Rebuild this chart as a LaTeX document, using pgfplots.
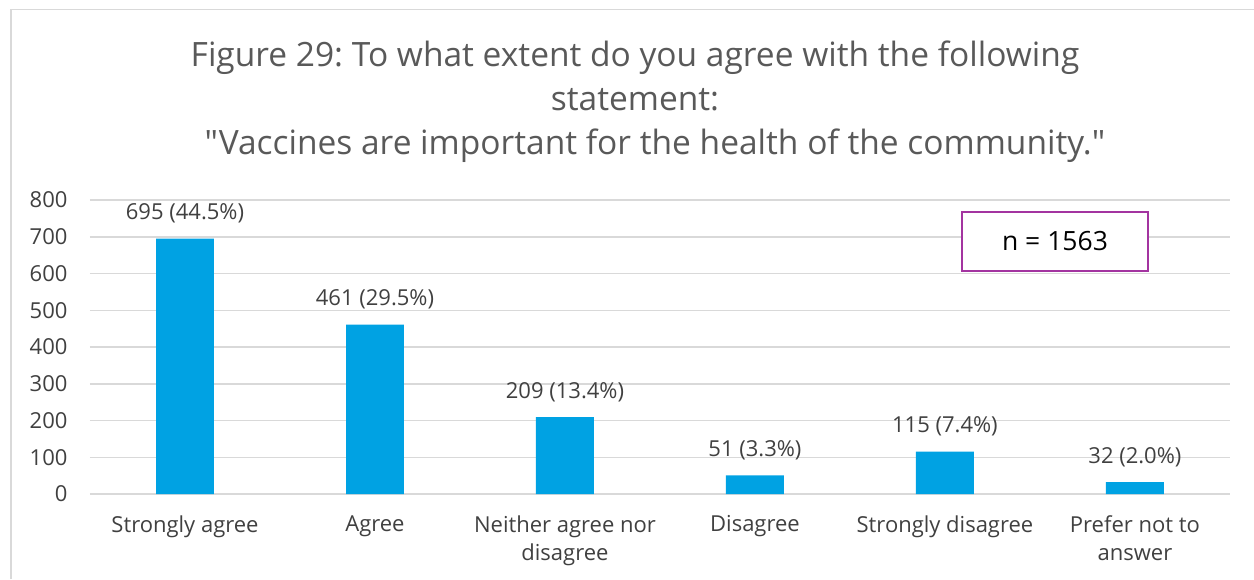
\documentclass[border=0pt]{standalone}
\usepackage{pgfplots}
\pgfplotsset{compat=1.18}
\usepackage{fontspec}
\setmainfont{Open Sans}[Ligatures=TeXOff]
\frenchspacing
\definecolor{barblue}{RGB}{0,162,227}
\definecolor{txt}{RGB}{64,64,64}
\definecolor{ttl}{RGB}{89,89,89}
\definecolor{gridc}{RGB}{217,217,217}
\definecolor{boxc}{RGB}{163,52,160}
\begin{document}
\begin{tikzpicture}[x=1pt,y=1pt]
\path[use as bounding box] (0,0) rectangle (1254,579);
\draw[gridc, line width=1.5pt] (11,0) -- (11,569.5) -- (1254,569.5);
\node[text=ttl, font=\fontsize{33.5}{40}\selectfont] at (635,521) {Figure 29: To what extent do you agree with the following};
\node[text=ttl, font=\fontsize{33.5}{40}\selectfont] at (635,479) {statement:};
\node[text=ttl, font=\fontsize{33.5}{40}\selectfont] at (655,433) {"Vaccines are important for the health of the community."};
\begin{axis}[
  at={(90pt,85pt)}, anchor=south west,
  scale only axis, width=1140pt, height=294pt,
  xmin=-0.5, xmax=5.5, ymin=0, ymax=800,
  ytick distance=100,
  xtick={0,1,2,3,4,5},
  xticklabels={Strongly agree, Agree, {Neither agree nor\\disagree}, Disagree, Strongly disagree, {Prefer not to\\answer}},
  axis line style={draw=none},
  major tick style={draw=none},
  ymajorgrids, grid style={gridc, line width=1.5pt},
  /pgf/number format/assume math mode=true,
  yticklabel style={font=\fontsize{22}{26}\selectfont, text=txt, xshift=-19pt},
  xticklabel style={font=\fontsize{22}{28}\selectfont, text=txt, align=center, anchor=north, yshift=-18pt},
  clip=false,
]
\addplot[ybar, bar width=0.305, fill=barblue, draw=none,
  point meta=explicit symbolic,
  nodes near coords,
  nodes near coords style={font=\fontsize{22}{26}\selectfont, text=txt, anchor=center, yshift=25pt}]
  coordinates {
  (0,695) [695 (44.5\%)]
  (1,461) [461 (29.5\%)]
  (2,209) [209 (13.4\%)]
  (3,51) [51 (3.3\%)]
  (4,115) [115 (7.4\%)]
  (5,32) [32 (2.0\%)]
  };
\end{axis}
\node[draw=boxc, line width=2pt, fill=white, minimum width=186pt, minimum height=59pt, font=\fontsize{26.5}{30}\selectfont] at (1055,337.5) {n = 1563};
\end{tikzpicture}
\end{document}
